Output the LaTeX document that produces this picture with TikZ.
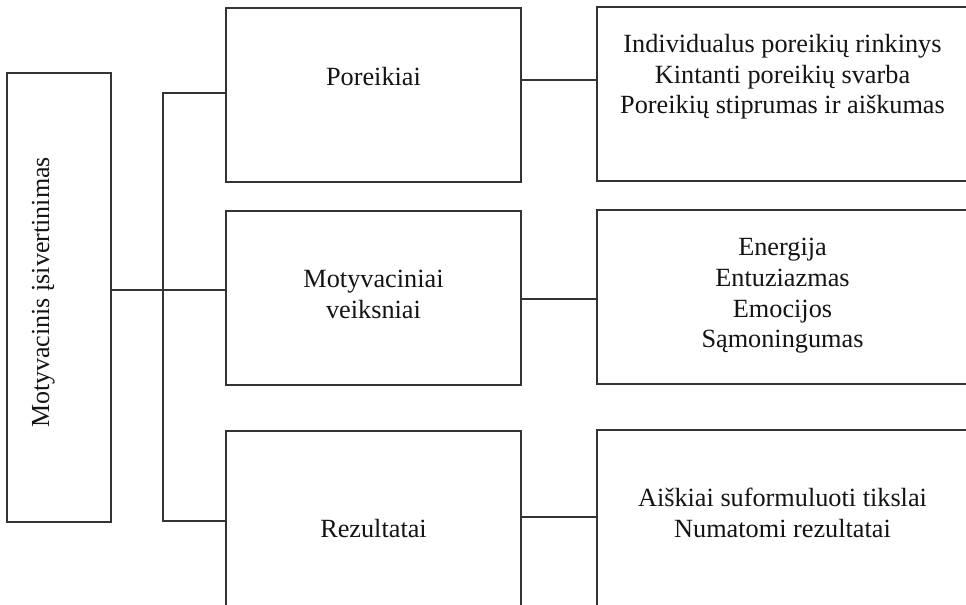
\documentclass[tikz,border=0pt]{standalone}
\usepackage{fontspec}
\setmainfont{Liberation Serif}
\usetikzlibrary{fit}
\begin{document}
\begin{tikzpicture}[x=0.75pt,y=-0.75pt,
  boxx/.style={draw=black!80, line width=0.9pt, inner sep=0pt, fill=none},
  conn/.style={draw=black!80, line width=0.9pt},
  lbl/.style={anchor=base, inner sep=0pt, text=black!92, font={\fontsize{19.7}{23}\selectfont}},
  vlbl/.style={anchor=base, inner sep=0pt, text=black!92, rotate=90, font={\fontsize{19.5}{23}\selectfont}}]
\useasboundingbox (0,0) rectangle (966,604);
\clip (0,0) rectangle (966,604);
\fill[white] (0,0) rectangle (966,604);
% boxes
\node[boxx, fit={(7,73) (111,522)}] (L) {};
\node[boxx, fit={(226,8) (521,182)}] (P) {};
\node[boxx, fit={(226,211) (521,385)}] (M) {};
\node[boxx, fit={(226,431) (521,640)}] (R) {};
\node[boxx, fit={(597,7) (968,181)}] (PR) {};
\node[boxx, fit={(597,210) (968,384)}] (MR) {};
\node[boxx, fit={(597,430) (968,640)}] (RR) {};
% texts
\node[vlbl] (Lt) at (49,292.5) {Motyvacinis įsivertinimas};
\node[lbl] (Pt) at (373.5,85) {Poreikiai};
\node[lbl] (Mt1) at (373.5,287) {Motyvaciniai};
\node[lbl] (Mt2) at (373.5,318) {veiksniai};
\node[lbl] (Rt) at (373.5,537) {Rezultatai};
\node[lbl] (PRt1) at (782.5,52) {Individualus poreikių rinkinys};
\node[lbl] (PRt2) at (782.5,83) {Kintanti poreikių svarba};
\node[lbl] (PRt3) at (782.5,113) {Poreikių stiprumas ir aiškumas};
\node[lbl] (MRt1) at (782.5,255) {Energija};
\node[lbl] (MRt2) at (782.5,286) {Entuziazmas};
\node[lbl] (MRt3) at (782.5,317) {Emocijos};
\node[lbl] (MRt4) at (782.5,347) {Sąmoningumas};
\node[lbl] (RRt1) at (782.5,506) {Aiškiai suformuluoti tikslai};
\node[lbl] (RRt2) at (782.5,537) {Numatomi rezultatai};
% bus coordinates
\coordinate (b1) at (163,93);
\coordinate (bm) at (163,290);
\coordinate (b3) at (163,521);
\coordinate (c1) at (559,80);
\coordinate (c2) at (559,299);
\coordinate (c3) at (559,517);
% connectors
\draw[conn] (bm -| L.east) -- (bm) -- (bm -| M.west);
\draw[conn] (b1 -| P.west) -- (b1) -- (b3) -- (b3 -| R.west);
\draw[conn] (c1 -| P.east) -- (c1 -| PR.west);
\draw[conn] (c2 -| M.east) -- (c2 -| MR.west);
\draw[conn] (c3 -| R.east) -- (c3 -| RR.west);
\end{tikzpicture}
\end{document}
